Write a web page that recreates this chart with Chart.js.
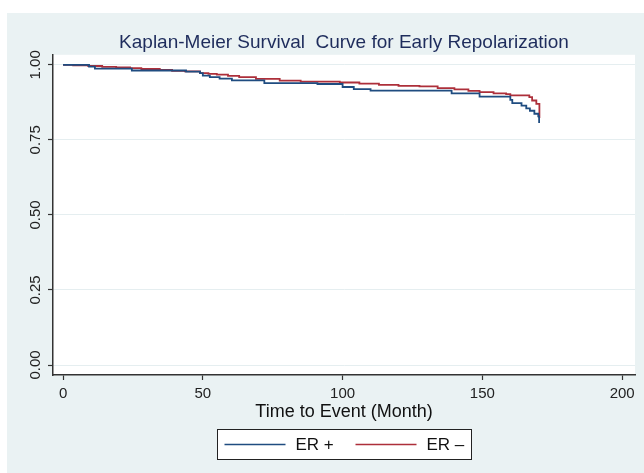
<!DOCTYPE html>
<html>
<head>
<meta charset="utf-8">
<title>Kaplan-Meier Survival Curve for Early Repolarization</title>
<script src="https://cdn.jsdelivr.net/npm/chart.js@4.4.1/dist/chart.umd.min.js"></script>
<style>
  html, body { margin: 0; padding: 0; background: #fff; }
  #wrap { width: 644px; height: 473px; }
</style>
</head>
<body>
<div id="wrap"><canvas id="kmChart" width="644" height="473"></canvas></div>
<script>
// survival steps (time in months, survival after the step)
const timeErPos = [0, 9.3, 11.4, 24.6, 44, 49, 50, 52.5, 56, 60.4, 72, 91, 100, 104, 110, 139, 149, 160, 160.7, 164, 165.7, 167, 168.6, 170, 170.3];
const survErPos = [1.000, 0.994, 0.987, 0.981, 0.977, 0.972, 0.964, 0.959, 0.954, 0.948, 0.939, 0.936, 0.926, 0.919, 0.914, 0.905, 0.894, 0.883, 0.872, 0.864, 0.855, 0.847, 0.837, 0.828, 0.806];

const timeErNeg = [0, 3.6, 9, 14, 19, 24, 28, 34.6, 39, 43.6, 49, 52, 55, 59, 63, 69, 77.5, 85, 99, 106, 113, 120, 127.5, 134, 140, 145, 149, 154, 158.5, 160, 166.8, 167.8, 169.3, 170.4];
const survErNeg = [1.000, 0.998, 0.996, 0.993, 0.991, 0.989, 0.986, 0.983, 0.980, 0.978, 0.972, 0.970, 0.967, 0.963, 0.959, 0.953, 0.947, 0.944, 0.941, 0.937, 0.933, 0.930, 0.928, 0.922, 0.918, 0.913, 0.909, 0.905, 0.902, 0.898, 0.892, 0.881, 0.870, 0.823];

const seriesNames = ['ER +', 'ER \u2013'];
const seriesColors = ['#1f4c80', '#ad2f3a'];
const xTicks = [0, 50, 100, 150, 200];
const yTicks = [0, 0.25, 0.5, 0.75, 1];

const FONT = '"Liberation Sans", Arial, sans-serif';

function toPoints(times, surv) {
    return times.map(function (t, i) { return { x: t, y: surv[i] }; });
}

// stata-like backgrounds: outer light blue-grey, white plot region
const backgrounds = {
    id: 'backgrounds',
    beforeDraw(chart) {
        const ctx = chart.ctx, a = chart.chartArea;
        ctx.save();
        ctx.fillStyle = '#ffffff';
        ctx.fillRect(0, 0, chart.width, chart.height);
        ctx.fillStyle = '#eaf2f3';
        ctx.fillRect(7, 13, chart.width - 7, chart.height - 13);
        ctx.fillStyle = '#ffffff';
        ctx.fillRect(a.left, a.top, a.right - a.left, a.bottom - a.top);
        ctx.restore();
    }
};

// boxed legend under the axis title
const legendBox = {
    id: 'legendBox',
    afterDraw(chart) {
        const ctx = chart.ctx, a = chart.chartArea;
        const w = 254, h = 30;
        const left = Math.round((a.left + a.right) / 2 - w / 2) + 0.5;
        const top = Math.round(a.bottom + 54) + 0.5;
        const midY = top + h / 2;
        ctx.save();
        ctx.fillStyle = '#ffffff';
        ctx.fillRect(left, top, w, h);
        ctx.strokeStyle = '#222';
        ctx.lineWidth = 1;
        ctx.strokeRect(left, top, w, h);
        ctx.font = '17px ' + FONT;
        ctx.textBaseline = 'middle';
        let x = left + 7;
        chart.data.datasets.forEach(function (ds) {
            ctx.strokeStyle = ds.borderColor;
            ctx.lineWidth = 1.6;
            ctx.beginPath();
            ctx.moveTo(x, midY);
            ctx.lineTo(x + 61, midY);
            ctx.stroke();
            ctx.fillStyle = '#111';
            ctx.fillText(ds.label, x + 71, midY + 1);
            x += 131;
        });
        ctx.restore();
    }
};

const ctx = document.getElementById('kmChart').getContext('2d');
const kmChart = new Chart(ctx, {
    type: 'line',
    data: {
        datasets: [{
            label: seriesNames[0],
            data: toPoints(timeErPos, survErPos),
            borderColor: seriesColors[0],
            borderWidth: 1.8,
            stepped: 'before',
            pointRadius: 0,
            fill: false
        }, {
            label: seriesNames[1],
            data: toPoints(timeErNeg, survErNeg),
            borderColor: seriesColors[1],
            borderWidth: 1.8,
            stepped: 'before',
            pointRadius: 0,
            fill: false
        }]
    },
    options: {
        responsive: false,
        animation: false,
        devicePixelRatio: 1,
        layout: { padding: { top: 13, left: 7, right: 9, bottom: 50 } },
        plugins: {
            legend: { display: false },
            tooltip: { enabled: false },
            title: {
                display: true,
                fullSize: false,
                text: 'Kaplan-Meier Survival  Curve for Early Repolarization',
                color: '#1e2c5c',
                font: { family: FONT, size: 19, weight: 'normal' },
                padding: { top: 18, bottom: 1 }
            }
        },
        scales: {
            x: {
                type: 'linear',
                min: -3.6,
                max: 204.6,
                afterBuildTicks: function (s) { s.ticks = xTicks.map(function (v) { return { value: v }; }); },
                afterFit: function (s) { s.height = 48; s.paddingLeft = 0; s.paddingRight = 0; },
                ticks: {
                    color: '#222',
                    font: { family: FONT, size: 15 },
                    padding: 5,
                    maxRotation: 0,
                    autoSkip: false
                },
                grid: { drawOnChartArea: false, tickLength: 5, tickColor: '#333', tickWidth: 1.2 },
                border: { color: '#333', width: 1.5 },
                title: {
                    display: true,
                    text: 'Time to Event (Month)',
                    color: '#111',
                    font: { family: FONT, size: 18 },
                    padding: { top: 0, bottom: 0 }
                }
            },
            y: {
                type: 'linear',
                min: -0.0333,
                max: 1.0333,
                afterBuildTicks: function (s) { s.ticks = yTicks.map(function (v) { return { value: v }; }); },
                afterFit: function (s) { s.width = 46; s.paddingTop = 0; s.paddingBottom = 0; },
                ticks: {
                    color: '#222',
                    font: { family: FONT, size: 15 },
                    minRotation: 90,
                    maxRotation: 90,
                    crossAlign: 'center',
                    padding: -2,
                    callback: function (v) { return Number(v).toFixed(2); }
                },
                grid: { color: '#e5eef0', lineWidth: 1, tickLength: 5, tickColor: '#333', tickWidth: 1.2 },
                border: { color: '#333', width: 1.5 }
            }
        }
    },
    plugins: [backgrounds, legendBox]
});
</script>
</body>
</html>
